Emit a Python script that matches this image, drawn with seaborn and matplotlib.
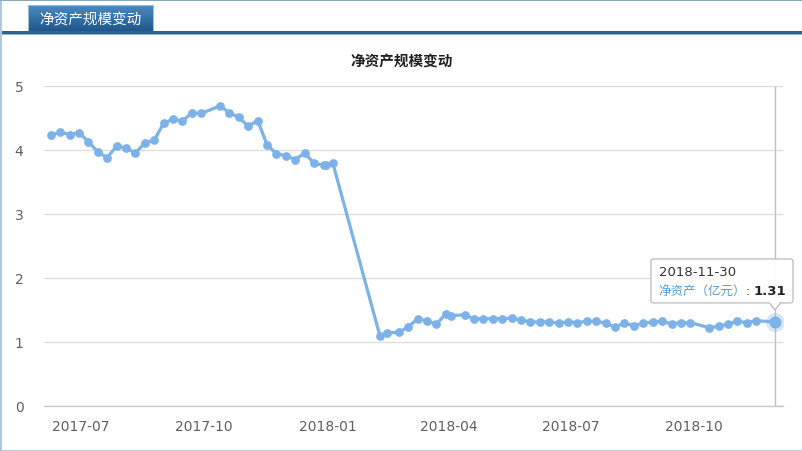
import pandas as pd
import numpy as np
import matplotlib
matplotlib.use('Agg')
import matplotlib.pyplot as plt
import matplotlib.dates as mdates
from matplotlib.patches import Rectangle, FancyBboxPatch, Polygon
import seaborn as sns

# weekly net asset values (亿元)
dates = [
    '2017-06-09', '2017-06-16', '2017-06-23', '2017-06-30', '2017-07-07', '2017-07-14',
    '2017-07-21', '2017-07-28', '2017-08-04', '2017-08-11', '2017-08-18', '2017-08-25',
    '2017-09-01', '2017-09-08', '2017-09-15', '2017-09-22', '2017-09-29', '2017-10-13',
    '2017-10-20', '2017-10-27', '2017-11-03', '2017-11-10', '2017-11-17', '2017-11-24',
    '2017-12-01', '2017-12-08', '2017-12-15', '2017-12-22', '2017-12-29', '2017-12-31',
    '2018-01-05',
    '2018-02-09', '2018-02-14', '2018-02-23', '2018-03-02', '2018-03-09', '2018-03-16',
    '2018-03-23', '2018-03-30', '2018-04-03', '2018-04-13', '2018-04-20', '2018-04-27',
    '2018-05-04', '2018-05-11', '2018-05-18', '2018-05-25', '2018-06-01', '2018-06-08',
    '2018-06-15', '2018-06-22', '2018-06-29', '2018-07-06', '2018-07-13', '2018-07-20',
    '2018-07-27', '2018-08-03', '2018-08-10', '2018-08-17', '2018-08-24', '2018-08-31',
    '2018-09-07', '2018-09-14', '2018-09-21', '2018-09-28', '2018-10-12', '2018-10-19',
    '2018-10-26', '2018-11-02', '2018-11-09', '2018-11-16', '2018-11-30',
]
values = [
    4.23, 4.28, 4.24, 4.27, 4.13, 3.97,
    3.88, 4.06, 4.03, 3.95, 4.11, 4.15,
    4.42, 4.48, 4.45, 4.58, 4.57, 4.69,
    4.58, 4.51, 4.37, 4.46, 4.08, 3.94,
    3.91, 3.85, 3.95, 3.79, 3.76, 3.76,
    3.79,
    1.09, 1.14, 1.15, 1.23, 1.36, 1.33,
    1.27, 1.44, 1.41, 1.42, 1.36, 1.36,
    1.36, 1.36, 1.37, 1.34, 1.31, 1.31,
    1.31, 1.29, 1.31, 1.30, 1.32, 1.32,
    1.29, 1.23, 1.29, 1.25, 1.29, 1.31,
    1.32, 1.28, 1.30, 1.30, 1.22, 1.24,
    1.28, 1.32, 1.30, 1.33, 1.31,
]
x_ticks = ['2017-07-01', '2017-10-01', '2018-01-01', '2018-04-01', '2018-07-01', '2018-10-01']
y_ticks = [0, 1, 2, 3, 4, 5]

title = '净资产规模变动'
series_name = '净资产（亿元）'

df = pd.DataFrame({'date': pd.to_datetime(dates), 'value': values})

W, H = 803, 452
line_color = '#7cb2e8'
cjk = ['Noto Sans CJK SC', 'DejaVu Sans']

sns.set_style('white')
plt.rcParams['font.family'] = ['DejaVu Sans']

fig = plt.figure(figsize=(W / 100, H / 100), dpi=100)
ax = fig.add_axes([44.3 / W, (H - 406.7) / H, (783.3 - 44.3) / W, (406.7 - 87) / H])

sns.lineplot(data=df, x='date', y='value', ax=ax, color=line_color, linewidth=2.3,
             marker='o', markersize=6.3, markeredgewidth=0, markerfacecolor=line_color)

# axis limits
t0 = mdates.date2num(pd.Timestamp('2017-07-01'))
t1 = mdates.date2num(pd.Timestamp('2018-10-01'))
ax.set_xlim(t0 - 26.8, t1 + 66.2)
ax.set_ylim(0, 5)

ax.set_xticks([mdates.date2num(pd.Timestamp(t)) for t in x_ticks])
ax.xaxis.set_major_formatter(mdates.DateFormatter('%Y-%m'))
ax.set_yticks(y_ticks)
ax.set_xlabel('')
ax.set_ylabel('')

ax.grid(axis='y', color='#dcdcdc', linewidth=0.9)
ax.grid(axis='x', visible=False)
ax.set_axisbelow(True)
for s in ['top', 'right', 'left']:
    ax.spines[s].set_visible(False)
ax.spines['bottom'].set_color('#c8c8c8')
ax.spines['bottom'].set_linewidth(1)
ax.tick_params(axis='x', length=4.5, width=0.8, color='#c8c8c8', labelsize=10,
               labelcolor='#606060', pad=5)
ax.tick_params(axis='y', length=0, labelsize=10, labelcolor='#606060', pad=15)

# crosshair and highlighted last point
last_x = df['date'].iloc[-1]
last_y = df['value'].iloc[-1]
ax.axvline(last_x, color='#c0c0c0', linewidth=1, zorder=1)
ax.scatter([last_x], [last_y], s=190, color=line_color, alpha=0.3, linewidths=0, zorder=4)
ax.scatter([last_x], [last_y], s=75, color=line_color, linewidths=0, zorder=5)

# page frame
fig.patches.append(Rectangle((0, 0), 1, 1, transform=fig.transFigure, fill=False,
                             edgecolor='#a9c6e0', linewidth=2))
fig.patches.append(Rectangle((0, 1 - 1.5 / H), 1, 1.5 / H, transform=fig.transFigure,
                             facecolor='#8aa9b5', edgecolor='none'))
fig.patches.append(Rectangle((2 / W, (H - 35) / H), 1, 3 / H, transform=fig.transFigure,
                             facecolor='#2d6390', edgecolor='none'))
fig.patches.append(Rectangle((2 / W, (H - 36) / H), 1, 1 / H, transform=fig.transFigure,
                             facecolor='#8fb2cf', edgecolor='none'))

# tab with gradient
tab = fig.add_axes([28 / W, (H - 34) / H, 125 / W, 28 / H])
grad = np.linspace(0, 1, 50).reshape(-1, 1)
top_c = np.array(matplotlib.colors.to_rgb('#4a8bc3'))
bot_c = np.array(matplotlib.colors.to_rgb('#1c5386'))
img = top_c[None, None, :] * (1 - grad[:, :, None]) + bot_c[None, None, :] * grad[:, :, None]
tab.imshow(img, aspect='auto', extent=[0, 1, 0, 1])
tab.set_xticks([])
tab.set_yticks([])
for s in tab.spines.values():
    s.set_color('#9bbbd6')
tab.text(0.5, 0.48, title, color='white', fontsize=10.5, ha='center', va='center',
         family=cjk, transform=tab.transAxes)

# chart title
fig.text(402 / W, (H - 62) / H, title, fontsize=10.5, fontweight='bold', ha='center',
         va='center', family=cjk, color='#222222')

# tooltip anchored to the last point
fig.canvas.draw()
px, py = ax.transData.transform((mdates.date2num(last_x), last_y))
fx = lambda v: v / W
fy = lambda v: v / H
box = FancyBboxPatch((fx(px - 124), fy(py + 19)), fx(142), fy(44),
                     boxstyle='round,pad=0,rounding_size=0.004', transform=fig.transFigure,
                     facecolor='white', edgecolor='#b8b8b8', linewidth=0.9, alpha=0.95)
fig.patches.append(box)
tri = Polygon([(fx(px - 6), fy(py + 19.5)), (fx(px + 6), fy(py + 19.5)), (fx(px), fy(py + 12))],
              closed=True, transform=fig.transFigure, facecolor='white', edgecolor='#b8b8b8',
              linewidth=0.9)
fig.patches.append(tri)
fig.patches.append(Rectangle((fx(px - 5.5), fy(py + 18.6)), fx(11), fy(2), transform=fig.transFigure,
                             facecolor='white', edgecolor='none'))

fig.text(fx(px - 116), fy(py + 50), '2018-11-30', fontsize=9.5, color='#333333',
         va='center', ha='left')
t1_txt = fig.text(fx(px - 117), fy(py + 31), series_name, fontsize=9, color='#5b9bd5',
                  va='center', ha='left', family=cjk)
fig.canvas.draw()
bb = t1_txt.get_window_extent()
t2_txt = fig.text(bb.x1 / W, fy(py + 31), ':', fontsize=9, color='#333333', va='center',
                  ha='left')
fig.canvas.draw()
bb2 = t2_txt.get_window_extent()
fig.text((bb2.x1 + 4) / W, fy(py + 31), f'{last_y:.2f}', fontsize=9.5, fontweight='bold',
         color='#222222', va='center', ha='left')

fig.savefig('out.png', dpi=100)
